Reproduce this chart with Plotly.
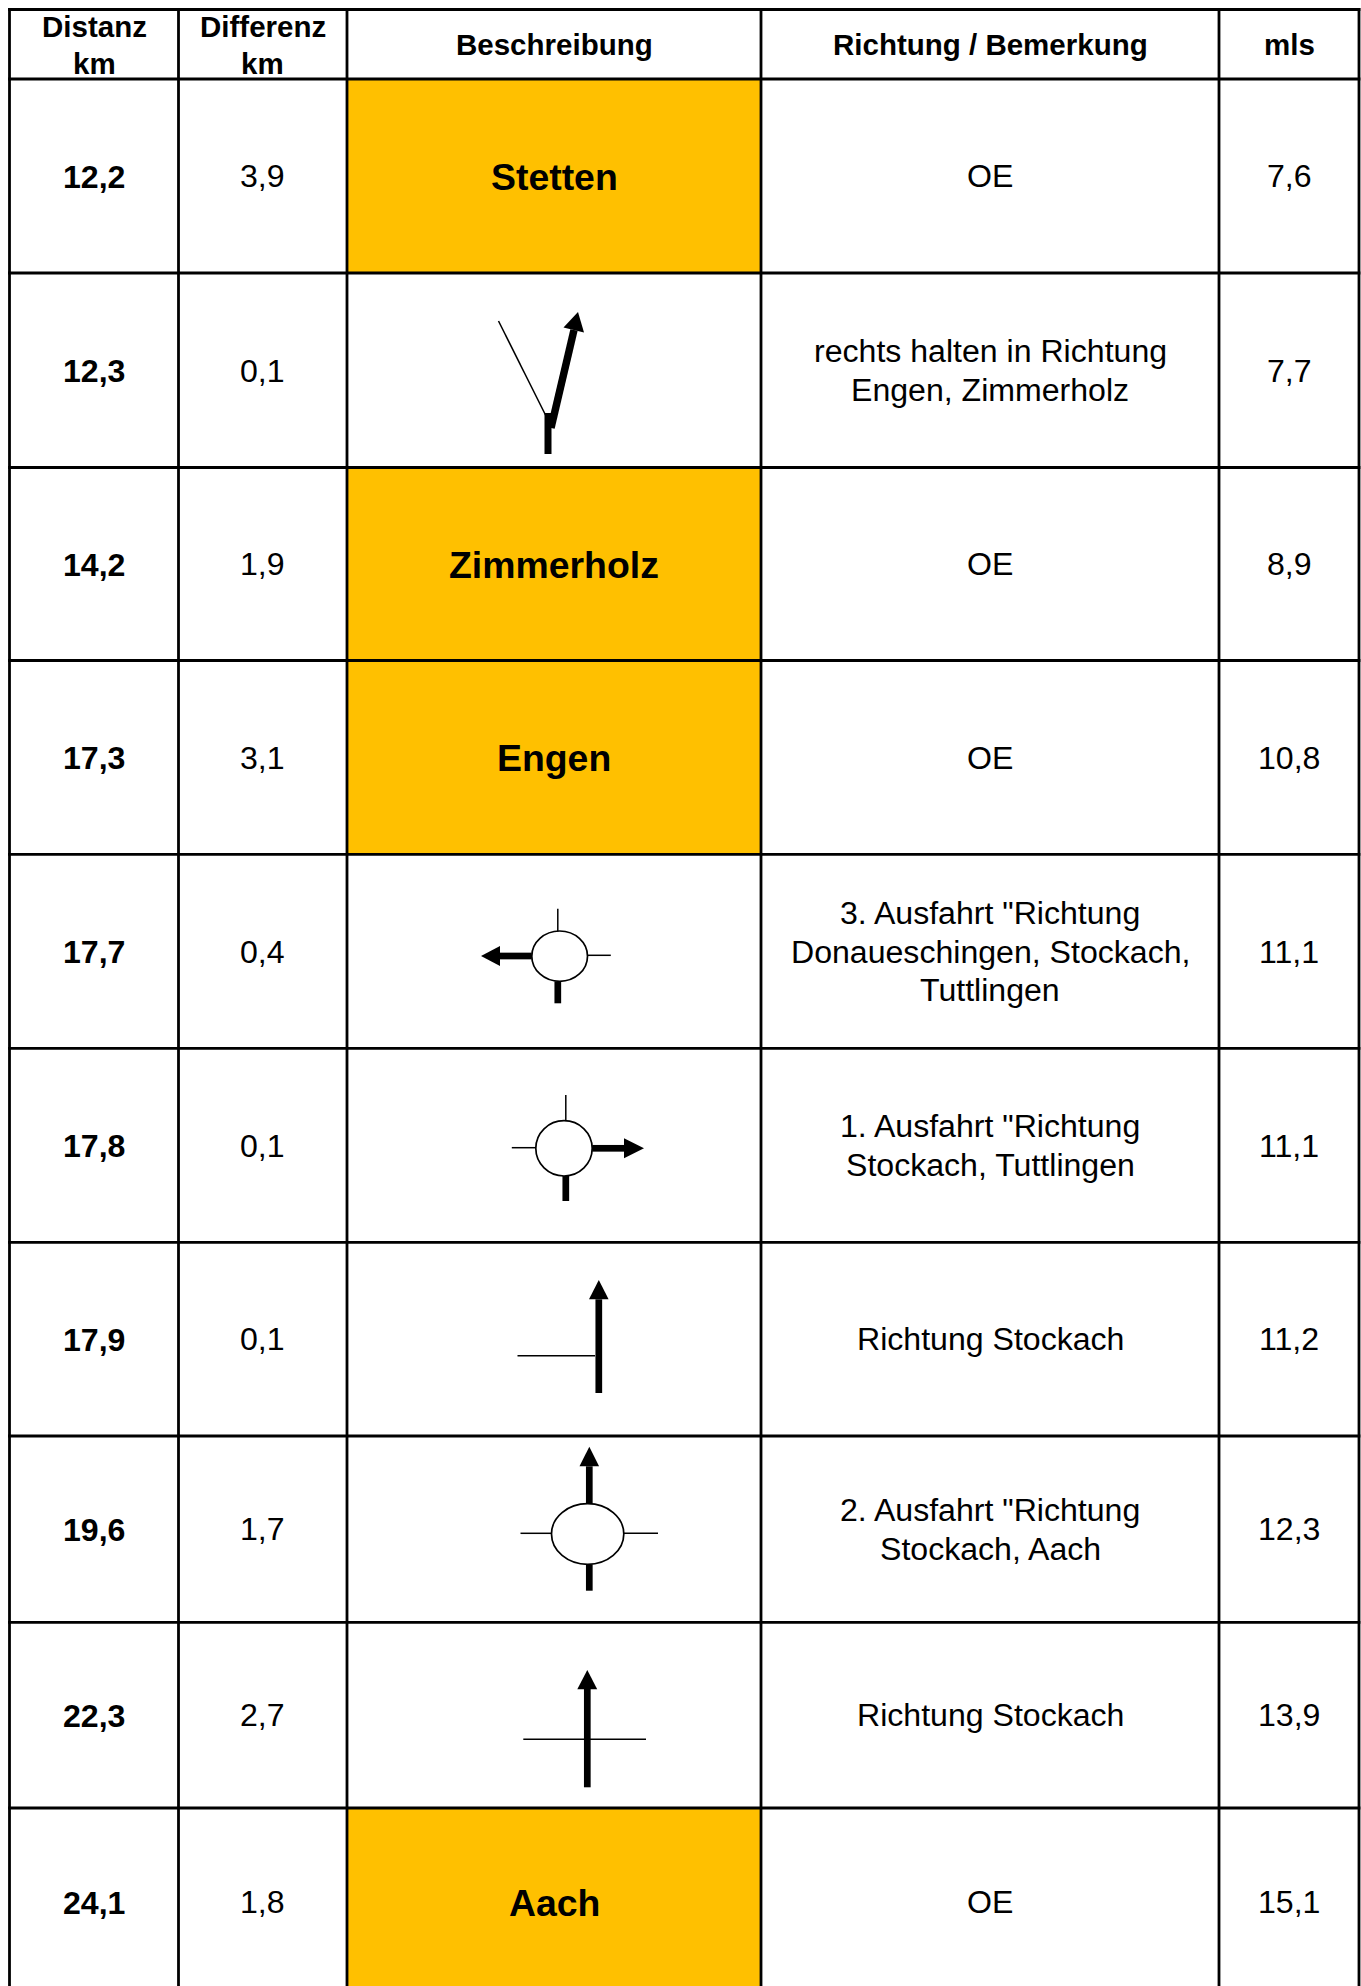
import plotly.graph_objects as go

# ---- table content ----
headers = ["Distanz<br>km", "Differenz<br>km", "Beschreibung", "Richtung / Bemerkung", "mls"]
distanz = ["12,2", "12,3", "14,2", "17,3", "17,7", "17,8", "17,9", "19,6", "22,3", "24,1"]
differenz = ["3,9", "0,1", "1,9", "3,1", "0,4", "0,1", "0,1", "1,7", "2,7", "1,8"]
orte = ["Stetten", "", "Zimmerholz", "Engen", "", "", "", "", "", "Aach"]
bemerkung = [
    "OE",
    "rechts halten in Richtung<br>Engen, Zimmerholz",
    "OE",
    "OE",
    '3. Ausfahrt "Richtung<br>Donaueschingen, Stockach,<br>Tuttlingen',
    '1. Ausfahrt "Richtung<br>Stockach, Tuttlingen',
    "Richtung Stockach",
    '2. Ausfahrt "Richtung<br>Stockach, Aach',
    "Richtung Stockach",
    "OE",
]
mls = ["7,6", "7,7", "8,9", "10,8", "11,1", "11,1", "11,2", "12,3", "13,9", "15,1"]

# ---- page geometry (separate from the content) ----
W, H = 1361, 1986
col_edges = [9.5, 178.5, 347, 761, 1219, 1359]
row_edges = [9.5, 79, 273, 467.5, 660.5, 854.3, 1048.3, 1242.3, 1436, 1622.3, 1808, 1996]
ORANGE = "#FFC000"
BLACK = "#000000"
FONT = "Liberation Sans"
SIZE_CELL, SIZE_HEAD, SIZE_ORT = 32.1, 29.5, 37.4
PITCH_CELL, PITCH_HEAD = 38.8, 37
DY_BOLD, DY_REGULAR = 1.0, 0.3

shapes, annotations = [], []


def seg(x0, y0, x1, y1, w):
    shapes.append(dict(type="line", xref="x", yref="y", x0=x0, y0=y0, x1=x1, y1=y1,
                       line=dict(color=BLACK, width=w), layer="above"))


def thin(x0, y0, x1, y1):
    seg(x0, y0, x1, y1, 1.5)


def thick(x0, y0, x1, y1, w=6.7):
    seg(x0, y0, x1, y1, w)


def head(tip, a, b):
    path = f"M {tip[0]} {tip[1]} L {a[0]} {a[1]} L {b[0]} {b[1]} Z"
    shapes.append(dict(type="path", xref="x", yref="y", path=path, fillcolor=BLACK,
                       line=dict(color=BLACK, width=0), layer="above"))


def ring(x0, y0, x1, y1):
    shapes.append(dict(type="circle", xref="x", yref="y", x0=x0, y0=y0, x1=x1, y1=y1,
                       line=dict(color=BLACK, width=1.7), fillcolor="rgba(0,0,0,0)", layer="above"))


def put(x, y, text, size, bold=False, pitch=0):
    lines = text.split("<br>")
    top = y - pitch * (len(lines) - 1) / 2
    for i, line in enumerate(lines):
        annotations.append(dict(
            x=x, y=top + i * pitch, xref="x", yref="y", text=f"<b>{line}</b>" if bold else line,
            showarrow=False, xanchor="center", yanchor="middle", align="center",
            font=dict(family=FONT, size=size, color=BLACK)))


centers_x = [(a + b) / 2 for a, b in zip(col_edges[:-1], col_edges[1:])]
centers_y = [(a + b) / 2 for a, b in zip(row_edges[:-1], row_edges[1:])]

# orange cells
for r, name in enumerate(orte):
    if name:
        shapes.append(dict(type="rect", xref="x", yref="y", x0=col_edges[2], x1=col_edges[3],
                           y0=row_edges[r + 1], y1=row_edges[r + 2], fillcolor=ORANGE,
                           line=dict(width=0), layer="below"))

# grid
for x in col_edges:
    seg(x, row_edges[0] - 1.4, x, H, 2.8)
for y in row_edges[:-1]:
    seg(col_edges[0] - 1.4, y, col_edges[-1] + 1.4, y, 2.8)

# header
for c, h in enumerate(headers):
    put(centers_x[c], centers_y[0] + 0.5, h, SIZE_HEAD, bold=True, pitch=PITCH_HEAD)

# body
for r in range(len(distanz)):
    y = centers_y[r + 1]
    put(centers_x[0], y + DY_BOLD, distanz[r], SIZE_CELL, bold=True)
    put(centers_x[1], y + DY_REGULAR, differenz[r], SIZE_CELL)
    if orte[r]:
        put(centers_x[2], y + DY_BOLD, orte[r], SIZE_ORT, bold=True)
    put(centers_x[3], y + DY_REGULAR, bemerkung[r], SIZE_CELL, pitch=PITCH_CELL)
    put(centers_x[4], y + DY_REGULAR, mls[r], SIZE_CELL)

# direction pictograms
# row 2: keep right
thin(498.5, 321, 546.5, 417)
thick(548, 413, 548, 454, 7)
thick(551, 428, 574, 330, 7.5)
head((578, 312), (563.5, 327.5), (584, 332.5))
# row 5: roundabout, exit 3
ring(531.8, 931, 587.5, 981.3)
thin(557.8, 908.7, 557.8, 931)
thin(587.5, 955.3, 610.8, 955.3)
thick(557.8, 981.3, 557.8, 1003.3)
thick(531.8, 956, 500, 956)
head((481, 956), (500, 946), (500, 966))
# row 6: roundabout, exit 1
ring(535.8, 1120.7, 592.2, 1176)
thin(565.8, 1095, 565.8, 1120.7)
thin(511.8, 1147.7, 535.8, 1147.7)
thick(565.8, 1176, 565.8, 1201)
thick(592.2, 1148.3, 624, 1148.3)
head((644, 1148.3), (624, 1138.3), (624, 1158.3))
# row 7: junction from the left
thick(598.8, 1393, 598.8, 1299.3)
thin(517.5, 1355.8, 595, 1355.8)
head((598.8, 1280), (589, 1299.3), (608.6, 1299.3))
# row 8: roundabout, exit 2
ring(551.5, 1503.7, 623.8, 1564.3)
thick(589.3, 1503.7, 589.3, 1466.3)
head((589.3, 1446.7), (579.5, 1466.3), (599.1, 1466.3))
thick(589.3, 1564.3, 589.3, 1590.7)
thin(520.5, 1533.3, 551.5, 1533.3)
thin(623.8, 1533.3, 658, 1533.3)
# row 9: crossroads
thick(587.3, 1787.3, 587.3, 1689)
head((587.3, 1670), (577.3, 1689.3), (597.2, 1689.3))
thin(523.3, 1739.3, 646, 1739.3)

fig = go.Figure()
# invisible trace so the axes are live and the pictograms sit on the library's scales
fig.add_trace(go.Scatter(x=[0, W], y=[0, H], mode="markers", marker=dict(opacity=0), hoverinfo="skip", showlegend=False))
fig.update_layout(
    width=W, height=H, margin=dict(l=0, r=0, t=0, b=0),
    paper_bgcolor="#FFFFFF", plot_bgcolor="#FFFFFF",
    xaxis=dict(range=[0, W], visible=False, fixedrange=True),
    yaxis=dict(range=[H, 0], visible=False, fixedrange=True),
    shapes=shapes, annotations=annotations, showlegend=False,
)
fig.write_html("out.html", config=dict(displayModeBar=False),
               post_script="document.body.style.margin='0';document.body.style.overflow='hidden';")
